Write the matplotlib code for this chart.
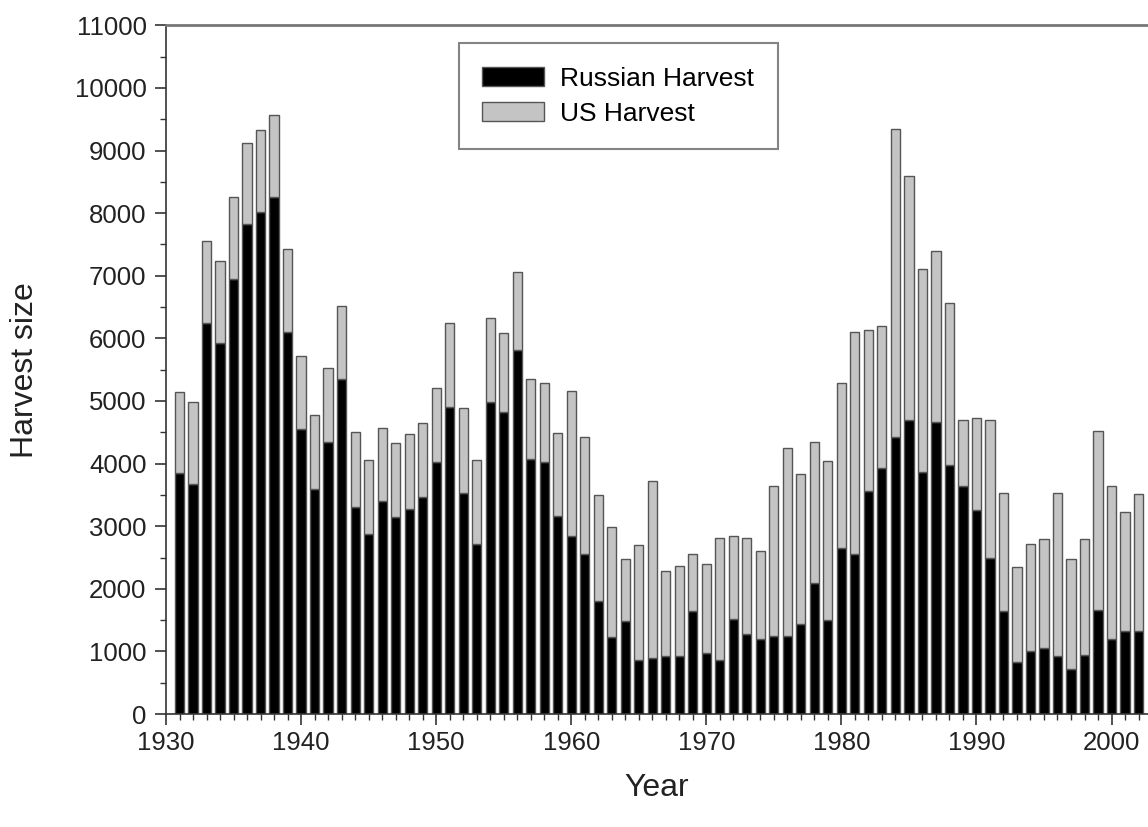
import matplotlib.pyplot as plt
import numpy as np

years = list(range(1931, 2003))

# total harvest (Russian + US) per year
total = [
    5150, 4980, 7550, 7230, 8250, 9120, 9320, 9570, 7420, 5720,
    4770, 5520, 6520, 4500, 4050, 4570, 4330, 4470, 4650, 5200,
    6250, 4880, 4050, 6330, 6080, 7060, 5350, 5290, 4490, 5160,
    4430, 3500, 2980, 2480, 2700, 3720, 2290, 2370, 2550, 2400,
    2810, 2840, 2810, 2610, 3650, 4250, 3840, 4340, 4040, 5280,
    6100, 6130, 6200, 9350, 8600, 7100, 7400, 6560, 4700, 4730,
    4690, 3530, 2350, 2720, 2800, 3530, 2480, 2800, 4520, 3640,
    3230, 3520,
]
russian = [
    3850, 3680, 6250, 5930, 6950, 7820, 8020, 8250, 6100, 4550,
    3600, 4350, 5350, 3300, 2870, 3400, 3150, 3280, 3470, 4030,
    4900, 3530, 2720, 4980, 4820, 5820, 4080, 4020, 3170, 2850,
    2560, 1800, 1230, 1480, 870, 900, 930, 930, 1650, 970,
    870, 1520, 1280, 1200, 1250, 1250, 1440, 2100, 1500, 2650,
    2560, 3560, 3930, 4420, 4700, 3870, 4670, 3980, 3650, 3260,
    2500, 1650, 830, 1000, 1050, 920, 720, 950, 1660, 1200,
    1320, 1320,
]
us = [t - r for t, r in zip(total, russian)]

plt.rcParams["font.family"] = ["Liberation Sans", "DejaVu Sans"]

fig = plt.figure(figsize=(11.48, 8.27), dpi=100)
ax = fig.add_axes([0.1446, 0.1366, 0.8554, 0.8328])

w = 0.68
ax.bar(years, russian, width=w, color="black", edgecolor="#555555", lw=1.0,
       label="Russian Harvest")
ax.bar(years, us, width=w, bottom=russian, color="#c4c4c4", edgecolor="#555555",
       lw=1.0, label="US Harvest")

ax.set_xlim(1930, 2002.7)
ax.set_ylim(0, 11000)
ax.set_xticks(np.arange(1930, 2001, 10))
ax.set_xticks(np.arange(1930, 2003, 1), minor=True)
ax.set_yticks(np.arange(0, 11001, 1000))
ax.set_yticks(np.arange(0, 11001, 500), minor=True)

for s in ("left", "bottom"):
    ax.spines[s].set_color("#333333")
    ax.spines[s].set_linewidth(1.2)
ax.spines["top"].set_color("#777777")
ax.spines["top"].set_linewidth(2)
ax.spines["right"].set_visible(False)

ax.tick_params(axis="both", which="major", direction="out", length=8, width=1.2,
               labelsize=18.5, colors="#333333", labelcolor="#222222")
ax.tick_params(axis="both", which="minor", direction="out", length=4, width=1.0,
               colors="#333333")
ax.tick_params(axis="x", pad=4)
ax.tick_params(axis="y", pad=6)

ax.set_xlabel("Year", fontsize=23, color="#222222", labelpad=13)
ax.set_ylabel("Harvest size", fontsize=23, color="#222222", labelpad=25)

leg = ax.legend(loc="upper left", bbox_to_anchor=(0.298, 0.974), fontsize=19,
                frameon=True, fancybox=False, edgecolor="#666666",
                handlelength=2.35, handleheight=0.7, handletextpad=0.6,
                borderpad=0.9, labelspacing=0.4, borderaxespad=0)
leg.get_frame().set_linewidth(1.5)

fig.savefig("out.png", dpi=100)
